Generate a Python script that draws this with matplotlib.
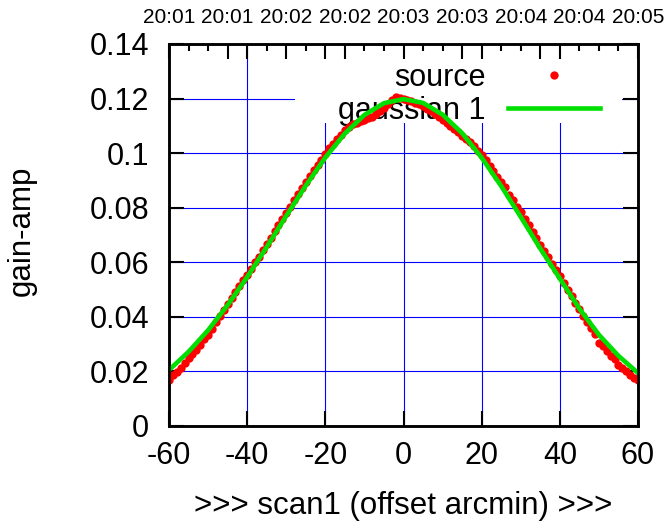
import matplotlib

matplotlib.use("Agg")
import matplotlib.pyplot as plt
import numpy as np
from matplotlib.patches import Rectangle
from matplotlib.ticker import FixedFormatter, FixedLocator, FormatStrFormatter, NullFormatter

plt.rcParams["font.family"] = ["Liberation Sans", "DejaVu Sans"]
plt.rcParams["axes.unicode_minus"] = False

# scan offsets (arcmin) and measured source gain, one point per arcmin
offset = np.arange(-60, 61)
source = [
    0.0168, 0.0186, 0.0198, 0.0214, 0.0231, 0.0248, 0.0265, 0.0280, 0.0298, 0.0318,
    0.0335, 0.0357, 0.0380, 0.0404, 0.0425, 0.0448, 0.0469, 0.0491, 0.0512, 0.0535,
    0.0553, 0.0577, 0.0600, 0.0620, 0.0645, 0.0668, 0.0690, 0.0713, 0.0737, 0.0758,
    0.0780, 0.0804, 0.0828, 0.0849, 0.0871, 0.0895, 0.0915, 0.0937, 0.0957, 0.0976,
    0.0996, 0.1017, 0.1033, 0.1051, 0.1068, 0.1083, 0.1095, 0.1105, 0.1112, 0.1118,
    0.1122, 0.1130, 0.1134, 0.1142, 0.1153, 0.1165, 0.1180, 0.1193, 0.1206, 0.1202,
    0.1198, 0.1194, 0.1191, 0.1185, 0.1179, 0.1171, 0.1162, 0.1154, 0.1143, 0.1133,
    0.1122, 0.1111, 0.1101, 0.1087, 0.1076, 0.1062, 0.1051, 0.1039, 0.1026, 0.1008,
    0.0992, 0.0974, 0.0952, 0.0935, 0.0912, 0.0893, 0.0874, 0.0847, 0.0829, 0.0804,
    0.0784, 0.0758, 0.0738, 0.0711, 0.0690, 0.0663, 0.0643, 0.0618, 0.0593, 0.0571,
    0.0548, 0.0523, 0.0500, 0.0477, 0.0452, 0.0427, 0.0402, 0.0382, 0.0360, 0.0337,
    0.0305, 0.0293, 0.0276, 0.0258, 0.0245, 0.0225, 0.0214, 0.0202, 0.0188, 0.0176,
    0.0168,
]

# fitted gaussian
fit_offset = np.arange(-60, 61, 5)
fit_gain = [
    0.0205, 0.0272, 0.0351, 0.0443, 0.0546, 0.0656, 0.0770, 0.0881, 0.0984,
    0.1072, 0.1140, 0.1183, 0.1198, 0.1184, 0.1141, 0.1073, 0.0983, 0.0879,
    0.0766, 0.0650, 0.0540, 0.0430, 0.0334, 0.0257, 0.0194,
]

# top time axis: 24 tick steps, labels every 3rd step
time_labels = ["20:01", "20:01", "20:02", "20:02", "20:03", "20:03", "20:04", "20:04", "20:05"]
time_major = [0, 3, 4, 6, 8, 9, 12, 15, 16, 19, 20, 24]

fig = plt.figure(figsize=(6.66, 5.27), dpi=100)
ax = fig.add_axes([0.2538, 0.1917, 0.7042, 0.7249])
ax.set_xlim(-60, 60)
ax.set_ylim(0, 0.14)
ax.set_xticks(np.arange(-60, 61, 20))
ax.set_yticks(np.arange(0, 0.141, 0.02))
ax.yaxis.set_major_formatter(FormatStrFormatter("%g"))
ax.set_axisbelow(True)
ax.grid(color="#0000ff", lw=0.8)
ax.tick_params(direction="in", length=10.8, width=1.5, labelsize=22, right=True, top=False)
ax.tick_params(axis="x", pad=11)
ax.tick_params(axis="y", pad=14.4)
for sp in ax.spines.values():
    sp.set_linewidth(1.8)

# white box behind the key, hides the grid there
ax.add_patch(Rectangle((0.269, 0.793), 0.697, 0.207, transform=ax.transAxes,
                       fc="white", ec="none", zorder=1))

ax.plot(offset, source, "o", color="#ff0000", ms=6, mec="none", label="source", zorder=3)
ax.plot(fit_offset, fit_gain, "-", color="#00e000", lw=3.3, label="gaussian 1", zorder=4)

leg = ax.legend(loc="upper right", bbox_to_anchor=(0.919, 0.951), frameon=False,
                markerfirst=False, fontsize=22, handlelength=3.0, handletextpad=0.75,
                labelspacing=0.1, borderpad=0, borderaxespad=0, numpoints=1)
leg.set_zorder(2.5)

ax.set_xlabel(">>> scan1 (offset arcmin) >>>", fontsize=22.5, va="center")
ax.xaxis.set_label_coords(0.5, -0.209)
ax.set_ylabel("gain-amp", fontsize=22.5, va="center")
ax.yaxis.set_label_coords(-0.313, 0.51)

# top ticks
ax2 = ax.twiny()
ax2.set_xlim(0, 24)
ax2.xaxis.set_major_locator(FixedLocator(time_major))
ax2.xaxis.set_major_formatter(NullFormatter())
ax2.xaxis.set_minor_locator(FixedLocator([i for i in range(25) if i not in time_major]))
ax2.tick_params(axis="x", which="major", direction="in", length=10.8, width=1.5)
ax2.tick_params(axis="x", which="minor", direction="in", length=5, width=1.5)
for sp in ax2.spines.values():
    sp.set_linewidth(1.8)

# top time labels
ax3 = ax.twiny()
ax3.set_xlim(0, 24)
ax3.xaxis.set_major_locator(FixedLocator(range(0, 25, 3)))
ax3.xaxis.set_major_formatter(FixedFormatter(time_labels))
ax3.tick_params(axis="x", which="major", direction="in", length=0, labelsize=15, pad=12)
for sp in ax3.spines.values():
    sp.set_visible(False)

fig.savefig("out.png", dpi=100)
